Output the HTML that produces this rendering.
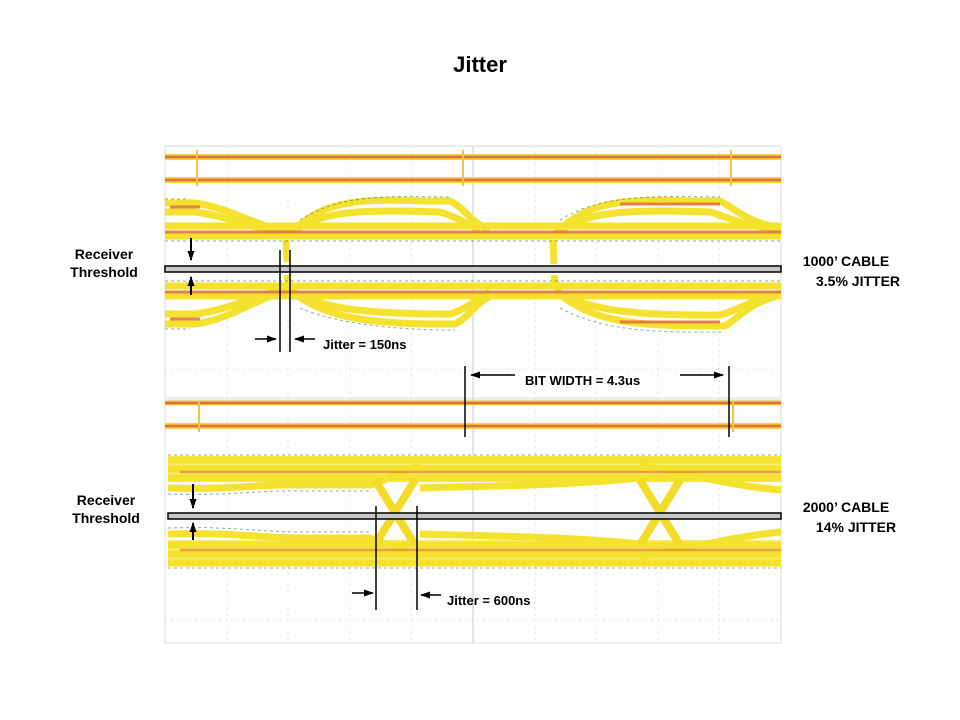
<!DOCTYPE html>
<html><head><meta charset="utf-8"><style>
html,body{margin:0;padding:0;background:#fff;width:960px;height:720px;overflow:hidden}
svg{display:block}
text{font-family:"Liberation Sans",Arial,sans-serif;font-weight:bold;fill:#000}
</style></head><body>
<svg width="960" height="720" viewBox="0 0 960 720" xmlns="http://www.w3.org/2000/svg">
<defs>
<marker id="ah" markerWidth="10" markerHeight="10" refX="9" refY="5" orient="auto" markerUnits="userSpaceOnUse"><path d="M0,1.5 L10,5 L0,8.5 Z" fill="#000"/></marker>
</defs>
<text x="480" y="72" font-size="22" text-anchor="middle">Jitter</text>

<rect x="165" y="146" width="616" height="252" fill="#fdfdfb" stroke="#ddd"/>
<rect x="165" y="400" width="616" height="243" fill="#fdfdfb" stroke="#ddd"/>
<g stroke="#e2e2e2" stroke-width="1" stroke-dasharray="2,4">
<line x1="227" y1="146" x2="227" y2="643"/><line x1="288" y1="146" x2="288" y2="643"/>
<line x1="350" y1="146" x2="350" y2="643"/><line x1="411" y1="146" x2="411" y2="643"/>
<line x1="535" y1="146" x2="535" y2="643"/><line x1="596" y1="146" x2="596" y2="643"/>
<line x1="658" y1="146" x2="658" y2="643"/><line x1="719" y1="146" x2="719" y2="643"/>
<line x1="165" y1="370" x2="781" y2="370"/><line x1="165" y1="620" x2="781" y2="620"/>
</g>
<line x1="473" y1="146" x2="473" y2="643" stroke="#ccc"/>

<g>
<line x1="165" y1="157" x2="781" y2="157" stroke="#f2d23a" stroke-width="6"/>
<line x1="165" y1="157" x2="781" y2="157" stroke="#e0703a" stroke-width="2.5"/>
<line x1="165" y1="180" x2="781" y2="180" stroke="#f2d23a" stroke-width="6"/>
<line x1="165" y1="180" x2="781" y2="180" stroke="#e0703a" stroke-width="2.5"/>
<line x1="197" y1="150" x2="197" y2="186" stroke="#f0c050" stroke-width="2"/>
<line x1="463" y1="150" x2="463" y2="186" stroke="#f0c050" stroke-width="2"/>
<line x1="731" y1="150" x2="731" y2="186" stroke="#f0c050" stroke-width="2"/>
</g>

<g fill="none" stroke-linecap="butt">
<g stroke="#f5e22e" stroke-width="7">
<path d="M165,226 H781"/><path d="M165,236 H781"/>
<path d="M165,203 H195 C230,208 260,228 290,232"/>
<path d="M165,212 H195 C230,216 260,232 290,234"/>
<path d="M290,234 C320,203 350,198 420,201 H450 C465,208 470,222 490,230"/>
<path d="M290,234 C320,212 350,209 440,212 C460,218 470,226 480,230"/>
<path d="M555,234 C585,203 620,198 690,201 H720 C735,208 745,222 781,228"/>
<path d="M555,234 C585,212 620,209 710,212 C730,218 745,226 781,230"/>
<path d="M165,286 H781"/><path d="M165,296 H781"/>
<path d="M165,324 H195 C230,320 260,296 290,290"/>
<path d="M165,314 H195 C230,310 260,293 290,288"/>
<path d="M290,290 C320,315 360,324 440,324 H455 C470,317 475,302 495,294"/>
<path d="M290,290 C320,308 360,314 450,314 C465,310 475,300 490,292"/>
<path d="M555,290 C585,317 620,326 700,326 H725 C740,317 750,302 781,295"/>
<path d="M555,290 C585,308 620,316 720,315 C740,310 750,300 781,293"/>
<path d="M286,240 L287,262"/><path d="M553,240 L554,264"/>
<path d="M287,275 L289,288"/><path d="M554,275 L556,288"/>
</g>
<g stroke="#e0703a" stroke-width="3" opacity="0.85">
<path d="M165,232 H781"/><path d="M165,292 H781"/>
<path d="M170,207 H200"/><path d="M170,319 H200"/>
<path d="M620,204 H720"/><path d="M620,322 H720"/>
</g>
<g stroke="#3a7a70" stroke-width="1" stroke-dasharray="3,3" opacity="0.6">
<path d="M165,199 H190"/><path d="M300,220 C340,195 380,196 450,197"/>
<path d="M560,220 C600,195 650,196 720,197"/>
<path d="M165,241 H781"/><path d="M165,281 H781"/><path d="M165,329 H190"/>
<path d="M300,308 C340,325 400,330 455,330"/><path d="M560,308 C600,330 650,333 725,332"/>
</g>
</g>

<line x1="165" y1="403" x2="781" y2="403" stroke="#f2d23a" stroke-width="5"/>
<line x1="165" y1="403" x2="781" y2="403" stroke="#e0703a" stroke-width="2.5"/>
<line x1="165" y1="426" x2="781" y2="426" stroke="#f2d23a" stroke-width="6"/>
<line x1="165" y1="426" x2="781" y2="426" stroke="#e0703a" stroke-width="2.5"/>
<line x1="199" y1="402" x2="199" y2="432" stroke="#f0c050" stroke-width="2"/>
<line x1="733" y1="402" x2="733" y2="432" stroke="#f0c050" stroke-width="2"/>

<g fill="none" stroke-linecap="butt">
<rect x="168" y="456" width="613" height="26" fill="#f8ec70" stroke="none"/>
<rect x="168" y="540" width="613" height="26" fill="#f8ec70" stroke="none"/>
<g stroke="#f5e22e" stroke-width="7">
<path d="M168,460 H781"/><path d="M168,469 H781"/><path d="M168,478 H781"/>
<path d="M168,545 H781"/><path d="M168,554 H781"/><path d="M168,563 H781"/>
<path d="M168,488 C230,490 260,484 300,485 H370 C390,480 400,470 420,466"/>
<path d="M168,534 C230,532 260,538 300,538 H370 C390,545 400,552 420,556"/>
<path d="M420,488 C480,486 560,486 640,478"/>
<path d="M420,534 C480,536 560,536 640,544"/>
<path d="M640,466 C680,470 720,485 781,490"/>
<path d="M640,556 C680,552 720,538 781,532"/>
</g>
<g stroke="#f3dc28" stroke-width="8">
<path d="M375,480 L415,545"/><path d="M415,480 L375,545"/>
<path d="M640,480 L680,545"/><path d="M680,480 L640,545"/>
</g>
<g stroke="#e0703a" stroke-width="2.5" opacity="0.6">
<path d="M180,472 H781"/><path d="M180,550 H781"/>
</g>
<g stroke="#3a7a70" stroke-width="1" stroke-dasharray="3,3" opacity="0.6">
<path d="M168,455 H781"/><path d="M168,568 H781"/>
<path d="M168,494 C230,496 260,490 300,491 H370"/><path d="M168,528 C230,526 260,532 300,532 H370"/>
</g>
</g>

<rect x="165" y="266" width="616" height="6" fill="#c8c8c8" stroke="#000" stroke-width="1.5"/>
<rect x="168" y="513" width="613" height="6" fill="#c8c8c8" stroke="#000" stroke-width="1.5"/>

<g stroke="#000" stroke-width="2">
<line x1="191" y1="238" x2="191" y2="260" marker-end="url(#ah)"/>
<line x1="191" y1="295" x2="191" y2="277" marker-end="url(#ah)"/>
<line x1="193" y1="484" x2="193" y2="508" marker-end="url(#ah)"/>
<line x1="193" y1="540" x2="193" y2="523" marker-end="url(#ah)"/>
</g>

<g stroke="#000" stroke-width="1.5">
<line x1="280" y1="250" x2="280" y2="352"/><line x1="290" y1="250" x2="290" y2="352"/>
<line x1="255" y1="339" x2="276" y2="339" marker-end="url(#ah)"/>
<line x1="315" y1="339" x2="295" y2="339" marker-end="url(#ah)"/>
<line x1="376" y1="506" x2="376" y2="610"/><line x1="417" y1="506" x2="417" y2="610"/>
<line x1="352" y1="593" x2="373" y2="593" marker-end="url(#ah)"/>
<line x1="441" y1="595" x2="421" y2="595" marker-end="url(#ah)"/>
<line x1="465" y1="366" x2="465" y2="437"/><line x1="729" y1="366" x2="729" y2="437"/>
<line x1="515" y1="375" x2="471" y2="375" marker-end="url(#ah)"/>
<line x1="680" y1="375" x2="723" y2="375" marker-end="url(#ah)"/>
</g>

<text x="323" y="349" font-size="13">Jitter = 150ns</text>
<text x="447" y="605" font-size="13">Jitter = 600ns</text>
<text x="525" y="385" font-size="13">BIT WIDTH = 4.3us</text>

<text x="104" y="259" font-size="14" text-anchor="middle">Receiver</text>
<text x="104" y="277" font-size="14" text-anchor="middle">Threshold</text>
<text x="106" y="505" font-size="14" text-anchor="middle">Receiver</text>
<text x="106" y="523" font-size="14" text-anchor="middle">Threshold</text>
<text x="846" y="266" font-size="14" text-anchor="middle">1000’ CABLE</text>
<text x="858" y="286" font-size="14" text-anchor="middle">3.5% JITTER</text>
<text x="846" y="512" font-size="14" text-anchor="middle">2000’ CABLE</text>
<text x="856" y="532" font-size="14" text-anchor="middle">14% JITTER</text>
</svg>
</body></html>
